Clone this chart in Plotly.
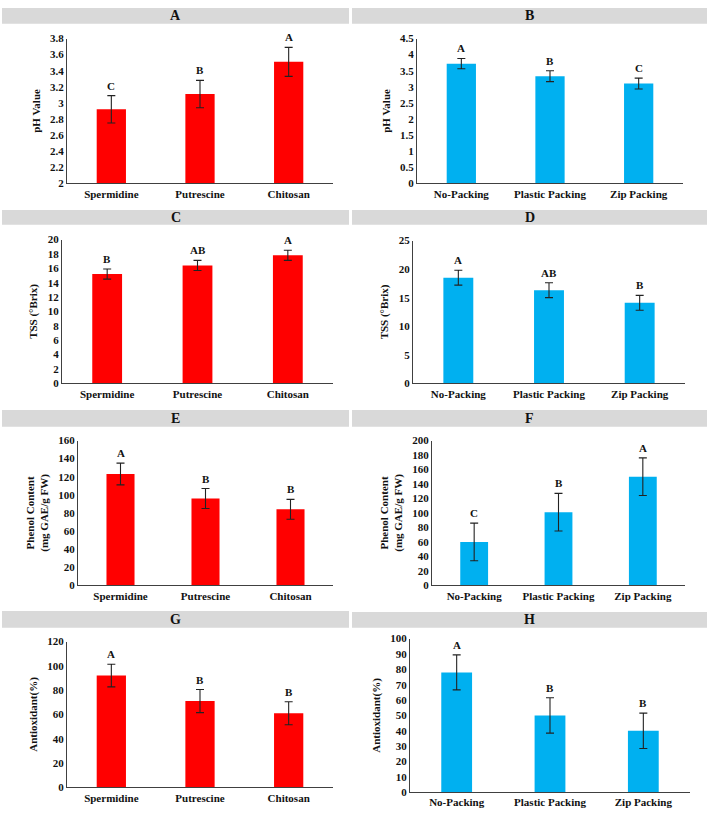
import plotly.graph_objects as go

W, H = 709, 818

treatments = ["Spermidine", "Putrescine", "Chitosan"]
packings = ["No-Packing", "Plastic Packing", "Zip Packing"]

ph_treat = [2.92, 3.11, 3.51]
ph_treat_err = [0.17, 0.17, 0.18]
ph_treat_let = ["C", "B", "A"]
ph_pack = [3.72, 3.33, 3.10]
ph_pack_err = [0.16, 0.17, 0.17]
ph_pack_let = ["A", "B", "C"]

tss_treat = [15.2, 16.4, 17.8]
tss_treat_err = [0.7, 0.7, 0.7]
tss_treat_let = ["B", "AB", "A"]
tss_pack = [18.5, 16.3, 14.1]
tss_pack_err = [1.3, 1.3, 1.3]
tss_pack_let = ["A", "AB", "B"]

phenol_treat = [123, 96, 84]
phenol_treat_err = [12, 11, 11]
phenol_treat_let = ["A", "B", "B"]
phenol_pack = [60, 101, 150]
phenol_pack_err = [26, 26, 26]
phenol_pack_let = ["C", "B", "A"]

anti_treat = [92, 71, 61]
anti_treat_err = [9.3, 9.5, 9.5]
anti_treat_let = ["A", "B", "B"]
anti_pack = [78, 50, 40]
anti_pack_err = [11.4, 11.5, 11.5]
anti_pack_let = ["A", "B", "B"]

panel_titles = ["A", "B", "C", "D", "E", "F", "G", "H"]
y_titles = ["pH Value", "pH Value", "TSS (°Brix)", "TSS (°Brix)",
            "Phenol Content<br>(mg GAE/g FW)", "Phenol Content<br>(mg GAE/g FW)",
            "Antioxidant(%)", "Antioxidant(%)"]

RED = "#ff0000"
BLUE = "#00b0f0"
FONT = "Liberation Serif"

panels = [
    # cats, vals, errs, letters, color, yrange, dtick, (x0,x1,ytop,ybot) px, title bar (x0,x1,y0,y1)
    (treatments, ph_treat, ph_treat_err, ph_treat_let, RED, [2, 3.8], 0.2, (67, 333, 33, 180), (2, 349, 2, 18)),
    (packings, ph_pack, ph_pack_err, ph_pack_let, BLUE, [0, 4.5], 0.5, (417, 683, 33, 180), (352, 707, 2, 18)),
    (treatments, tss_treat, tss_treat_err, tss_treat_let, RED, [0, 20], 2, (62, 333, 237, 383), (2, 349, 207, 222)),
    (packings, tss_pack, tss_pack_err, tss_pack_let, BLUE, [0, 25], 5, (413, 685, 238, 383), (352, 707, 207, 222)),
    (treatments, phenol_treat, phenol_treat_err, phenol_treat_let, RED, [0, 160], 20, (78, 333, 441, 588), (2, 349, 410, 427)),
    (packings, phenol_pack, phenol_pack_err, phenol_pack_let, BLUE, [0, 200], 20, (432, 685, 441, 588), (352, 707, 410, 427)),
    (treatments, anti_treat, anti_treat_err, anti_treat_let, RED, [0, 120], 20, (67, 333, 645, 793), (2, 349, 614, 631)),
    (packings, anti_pack, anti_pack_err, anti_pack_let, BLUE, [0, 100], 10, (410, 690, 642, 798), (352, 707, 615, 631)),
]

fig = go.Figure()
shapes = []
annotations = []
layout = {}

for i, (cats, vals, errs, lets, col, yr, dt, box, tb) in enumerate(panels):
    n = i + 1
    xa = "x" if n == 1 else f"x{n}"
    ya = "y" if n == 1 else f"y{n}"
    xk = "xaxis" if n == 1 else f"xaxis{n}"
    yk = "yaxis" if n == 1 else f"yaxis{n}"
    x0, x1, yt, yb = box
    fig.add_trace(go.Bar(
        x=cats, y=vals, xaxis=xa, yaxis=ya, width=0.33,
        marker=dict(color=col, line=dict(width=0)),
        error_y=dict(type="data", array=errs, visible=True, color="#222222",
                     thickness=1.1, width=4),
        showlegend=False, hoverinfo="x+y",
    ))
    layout[xk] = dict(
        domain=[x0 / W, x1 / W], anchor=ya, showgrid=False, zeroline=False,
        showline=True, linecolor="#404040", linewidth=1, ticks="",
        tickfont=dict(family=FONT, size=11, color="#111", weight="bold"),
        fixedrange=True,
    )
    layout[yk] = dict(
        domain=[1 - yb / H, 1 - yt / H], anchor=xa, range=yr, dtick=dt,
        showgrid=False, zeroline=False, showline=True, linecolor="#404040",
        linewidth=1, ticks="",
        tickfont=dict(family=FONT, size=11, color="#111", weight="bold"),
        title=dict(text=y_titles[i], standoff=7,
                   font=dict(family=FONT, size=11, color="#111", weight="bold")),
        fixedrange=True,
    )
    for c, v, e, l in zip(cats, vals, errs, lets):
        annotations.append(dict(
            x=c, y=v + e, xref=xa, yref=ya, text=l, showarrow=False,
            yanchor="bottom", yshift=2,
            font=dict(family=FONT, size=11, color="#111", weight="bold"),
        ))
    bx0, bx1, by0, by1 = tb
    shapes.append(dict(type="rect", xref="paper", yref="paper",
                       x0=bx0 / W, x1=bx1 / W, y0=1 - by1 / H, y1=1 - by0 / H,
                       fillcolor="#d9d9d9", line=dict(width=0), layer="below"))
    annotations.append(dict(
        x=(bx0 + bx1) / 2 / W, y=1 - (by0 + by1) / 2 / H, xref="paper", yref="paper",
        text=panel_titles[i], showarrow=False, xanchor="center", yanchor="middle",
        font=dict(family=FONT, size=14, color="#111", weight="bold"),
    ))

fig.update_layout(
    width=W, height=H, margin=dict(l=0, r=0, t=0, b=0),
    paper_bgcolor="white", plot_bgcolor="white",
    shapes=shapes, annotations=annotations, **layout,
)

fig.write_html("out.html")
